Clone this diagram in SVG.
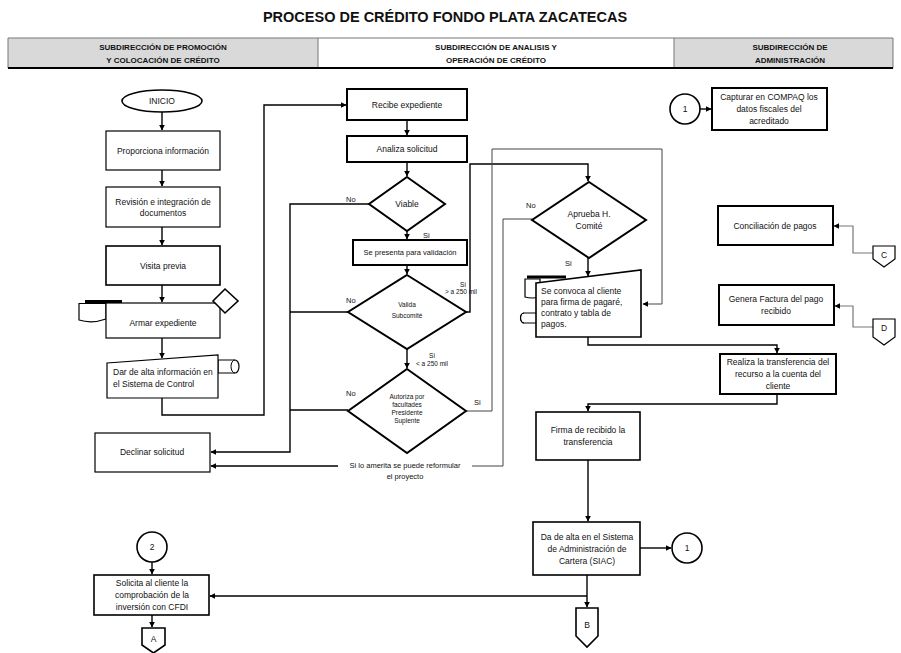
<svg xmlns="http://www.w3.org/2000/svg" width="901" height="653" viewBox="0 0 901 653">
<defs>
<marker id="ah" viewBox="0 0 10 10" refX="9" refY="5" markerWidth="6" markerHeight="6" markerUnits="userSpaceOnUse" orient="auto">
<path d="M0,0 L10,5 L0,10 z" fill="#000"/>
</marker>
<style>
text{font-family:"Liberation Sans",Arial,sans-serif;fill:#111}
.t{font-size:8.5px;text-anchor:middle}
.tl{font-size:8.5px}
.s{font-size:6.5px;text-anchor:middle}
.lb{font-size:7.5px}
.h{font-size:8px;font-weight:bold;text-anchor:middle}
.b1{fill:#fff;stroke:#000;stroke-width:1.2}
.b2{fill:#fff;stroke:#000;stroke-width:2}
.b15{fill:#fff;stroke:#000;stroke-width:1.6}
.c{fill:none;stroke:#000;stroke-width:1.4}
.cg{fill:none;stroke:#444;stroke-width:1}
.cgr{fill:none;stroke:#777;stroke-width:1.2}
</style>
</defs>
<rect width="901" height="653" fill="#fff"/>
<text x="445" y="22" style="font-size:14.5px;font-weight:bold;text-anchor:middle">PROCESO DE CRÉDITO FONDO PLATA ZACATECAS</text>
<g id="header">
<rect x="8" y="38" width="310" height="30" fill="#d9d9d9"/>
<rect x="318" y="38" width="356" height="30" fill="#fff"/>
<rect x="674" y="38" width="219" height="30" fill="#d9d9d9"/>
<path d="M8,38 H893 M8,38 V68 M318,38 V68 M674,38 V68 M893,38 V68" stroke="#777" stroke-width="1" fill="none"/>
<path d="M8,68 H893" stroke="#000" stroke-width="2"/>
<text class="h" x="163" y="50">SUBDIRECCIÓN DE  PROMOCIÓN</text>
<text class="h" x="163" y="63">Y COLOCACIÓN DE CRÉDITO</text>
<text class="h" x="496" y="50">SUBDIRECCIÓN DE ANALISIS Y</text>
<text class="h" x="496" y="63">OPERACIÓN DE CRÉDITO</text>
<text class="h" x="790" y="50">SUBDIRECCIÓN DE</text>
<text class="h" x="790" y="63">ADMINISTRACIÓN</text>
</g>
<g id="connectors">
<path class="c" d="M162,112 V130" marker-end="url(#ah)"/>
<path class="c" d="M162,170 V186" marker-end="url(#ah)"/>
<path class="c" d="M162,227 V245" marker-end="url(#ah)"/>
<path class="c" d="M162,285 V302" marker-end="url(#ah)"/>
<path class="c" d="M162,338 V358" marker-end="url(#ah)"/>
<path class="c" d="M162,398 V415 H264 V105 H346" marker-end="url(#ah)"/>
<path class="c" d="M407,120 V135" marker-end="url(#ah)"/>
<path class="c" d="M407,162 V176" marker-end="url(#ah)"/>
<path class="c" d="M407,231 V239" marker-end="url(#ah)"/>
<path class="c" d="M369,204 H290 V452 H211" marker-end="url(#ah)"/>
<path class="c" d="M407,265 V274" marker-end="url(#ah)"/>
<path class="c" d="M348,312 H290"/>
<path class="c" d="M466,312 H470 V164 H588 V181" marker-end="url(#ah)"/>
<path class="c" d="M407,349 V368" marker-end="url(#ah)"/>
<path class="c" d="M348,410 H290"/>
<path class="cg" d="M466,411 H492 V149 H662 V304 H643" marker-end="url(#ah)"/>
<path class="cg" d="M532,219 H503 V466 H472"/>
<path class="c" d="M338,466 H211" marker-end="url(#ah)"/>
<path class="c" d="M588,258 V276" marker-end="url(#ah)"/>
<path class="c" d="M588,337 V345 H777 V353" marker-end="url(#ah)"/>
<path class="c" d="M777,394 V404 H588 V411" marker-end="url(#ah)"/>
<path class="c" d="M588,460 V521" marker-end="url(#ah)"/>
<path class="c" d="M640,548 H671" marker-end="url(#ah)"/>
<path class="c" d="M587,575 V607" marker-end="url(#ah)"/>
<path class="c" d="M587,596 H210" marker-end="url(#ah)"/>
<path class="c" d="M152,562 V574" marker-end="url(#ah)"/>
<path class="c" d="M152,615 V627" marker-end="url(#ah)"/>
<path class="c" d="M700,109 H711" marker-end="url(#ah)"/>
<path class="cgr" d="M873,253 H853 V226 H834" marker-end="url(#ah)"/>
<path class="cgr" d="M873,327 H853 V306 H835" marker-end="url(#ah)"/>
<text class="lb" x="346" y="202">No</text>
<text class="lb" x="423" y="238">Si</text>
<text class="lb" x="346" y="303">No</text>
<text x="463" y="287" style="font-size:6.5px;text-anchor:middle">Si</text>
<text x="461" y="294" style="font-size:6.5px;text-anchor:middle">&gt; a 250 mil</text>
<text x="432" y="358" style="font-size:6.5px;text-anchor:middle">Si</text>
<text x="432" y="366" style="font-size:6.5px;text-anchor:middle">&lt; a 250 mil</text>
<text class="lb" x="346" y="396">No</text>
<text class="lb" x="474" y="405">Si</text>
<text class="lb" x="526" y="208">No</text>
<text class="lb" x="565" y="266">Si</text>
<text x="405" y="468" style="font-size:7.5px;text-anchor:middle">Si lo amerita se puede reformular</text>
<text x="405" y="479" style="font-size:7.5px;text-anchor:middle">el proyecto</text>
</g>
<g id="inicio">
<ellipse cx="162" cy="101" rx="40" ry="11" class="b15"/>
<text class="t" x="162" y="104">INICIO</text>
</g>
<g id="proporciona">
<rect x="106" y="131" width="114" height="39" class="b1"/>
<text class="t" x="163" y="154">Proporciona información</text>
</g>
<g id="revision">
<rect x="106" y="187" width="114" height="40" class="b1"/>
<text class="t" x="163" y="205">Revisión e integración de</text>
<text class="t" x="163" y="216">documentos</text>
</g>
<g id="visita">
<rect x="106" y="246" width="114" height="39" class="b15"/>
<text class="t" x="163" y="269">Visita previa</text>
</g>
<g id="armar">
<path d="M85,301.5 H122" stroke="#000" stroke-width="3"/>
<path d="M79,303.5 H106 V319 Q92,324 79,320 Z" class="b1"/>
<rect x="106" y="303" width="114" height="35" class="b1"/>
<text class="t" x="163" y="326">Armar expediente</text>
<path d="M225,289 L238,301 L225,313 L213,301 Z" class="b15"/>
</g>
<g id="dar-alta">
<path d="M218,360 H235 A4,6.5 0 0 1 235,373 H218 Z" class="b1"/>
<path d="M235,360 A4,6.5 0 0 0 235,373" fill="none" stroke="#000" stroke-width="1"/>
<path d="M107,363 L218,355 V398 H107 Z" class="b1"/>
<text class="tl" x="113" y="375">Dar de alta información en</text>
<text class="tl" x="113" y="387">el Sistema de Control</text>
</g>
<g id="declinar">
<rect x="95" y="433" width="115" height="39" class="b1"/>
<text class="t" x="152" y="455">Declinar solicitud</text>
</g>
<g id="recibe">
<rect x="347" y="89" width="120" height="31" class="b2"/>
<text class="t" x="407" y="108">Recibe expediente</text>
</g>
<g id="analiza">
<rect x="347" y="136" width="120" height="26" class="b2"/>
<text class="t" x="407" y="152">Analiza solicitud</text>
</g>
<g id="viable">
<path d="M407,177 L445,204 L407,231 L369,204 Z" class="b2"/>
<text class="t" x="407" y="207">Viable</text>
</g>
<g id="presenta">
<rect x="353" y="240" width="114" height="25" class="b2"/>
<text x="410" y="255" style="font-size:7.5px;text-anchor:middle">Se presenta para validación</text>
</g>
<g id="valida">
<path d="M407,275 L466,312 L407,349 L348,312 Z" class="b2"/>
<text class="s" x="407" y="307">Valida</text>
<text class="s" x="407" y="318">Subcomité</text>
</g>
<g id="autoriza">
<path d="M407,369 L466,411 L407,453 L348,411 Z" class="b2"/>
<text class="s" x="407" y="399">Autoriza por</text>
<text class="s" x="407" y="407">facultades</text>
<text class="s" x="407" y="415">Presidente</text>
<text class="s" x="407" y="423">Suplente</text>
</g>
<g id="aprueba">
<path d="M589,182 L646,220 L589,258 L532,220 Z" class="b2"/>
<text class="t" x="589" y="217">Aprueba H.</text>
<text class="t" x="589" y="229">Comité</text>
</g>
<g id="convoca">
<path d="M527,277 H566" stroke="#000" stroke-width="3"/>
<path d="M525,279 H540 V297 Q532,299 525,297 Z" class="b1"/>
<path d="M524,313 H537 V323 H524 A3.5,5 0 0 1 524,313 Z" class="b1"/>
<path d="M524,313 A3.5,5 0 0 0 524,323" fill="none" stroke="#000" stroke-width="1"/>
<path d="M536,283 L641,270 V337 H536 Z" class="b15"/>
<text class="tl" x="541" y="294">Se convoca al cliente</text>
<text class="tl" x="541" y="305">para firma de pagaré,</text>
<text class="tl" x="541" y="316">contrato y tabla de</text>
<text class="tl" x="541" y="327">pagos.</text>
</g>
<g id="realiza">
<rect x="720" y="354" width="116" height="40" class="b2"/>
<text class="t" x="778" y="365">Realiza la transferencia del</text>
<text class="t" x="778" y="377">recurso a la cuenta del</text>
<text class="t" x="778" y="389">cliente</text>
</g>
<g id="firma">
<rect x="536" y="412" width="104" height="48" class="b15"/>
<text class="t" x="588" y="433">Firma de recibido la</text>
<text class="t" x="588" y="445">transferencia</text>
</g>
<g id="da-alta">
<rect x="533" y="522" width="107" height="53" class="b15"/>
<text class="t" x="587" y="540">Da de alta en el Sistema</text>
<text class="t" x="587" y="552">de Administración de</text>
<text class="t" x="587" y="564">Cartera (SIAC)</text>
</g>
<g id="conector-1b">
<circle cx="687" cy="548" r="15" class="b15"/>
<text class="t" x="687" y="551">1</text>
</g>
<g id="conector-B">
<path d="M576,608 H598 V636 L587,647 L576,636 Z" class="b15"/>
<text class="t" x="587" y="628">B</text>
</g>
<g id="conector-2">
<circle cx="152" cy="547" r="15" class="b15"/>
<text class="t" x="152" y="550">2</text>
</g>
<g id="solicita">
<rect x="94" y="575" width="115" height="40" class="b15"/>
<text class="t" x="152" y="586">Solicita al cliente la</text>
<text class="t" x="152" y="598">comprobación de la</text>
<text class="t" x="152" y="610">inversión con CFDI</text>
</g>
<g id="conector-A">
<path d="M142,628 H165 V645 L153.5,653 L142,645 Z" class="b15"/>
<text class="t" x="153.5" y="642">A</text>
</g>
<g id="conector-1a">
<circle cx="685" cy="109" r="15" class="b15"/>
<text class="t" x="685" y="112">1</text>
</g>
<g id="capturar">
<rect x="712" y="88" width="115" height="42" class="b2"/>
<text class="t" x="769" y="100">Capturar en COMPAQ los</text>
<text class="t" x="769" y="112">datos fiscales del</text>
<text class="t" x="769" y="124">acreditado</text>
</g>
<g id="conciliacion">
<rect x="718" y="206" width="115" height="39" class="b2"/>
<text class="t" x="775" y="229">Conciliación de pagos</text>
</g>
<g id="conector-C">
<path d="M873,246 H895 V259 L884,267 L873,259 Z" class="b1"/>
<text class="t" x="884" y="258">C</text>
</g>
<g id="genera">
<rect x="719" y="285" width="115" height="40" class="b2"/>
<text class="t" x="776" y="302">Genera Factura del pago</text>
<text class="t" x="776" y="314">recibido</text>
</g>
<g id="conector-D">
<path d="M873,319 H895 V337 L884,345 L873,337 Z" class="b1"/>
<text class="t" x="884" y="331">D</text>
</g>
</svg>
